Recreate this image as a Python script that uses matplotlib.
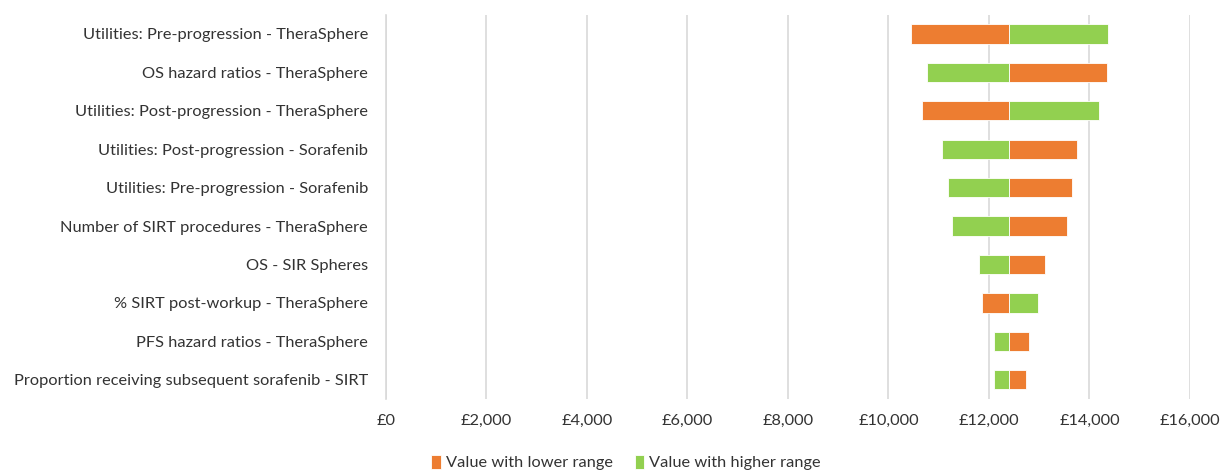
import matplotlib.pyplot as plt
import matplotlib.ticker as ticker
import numpy as np

# ----------- DATA -----------
params = ['Utilities: Pre-progression - TheraSphere',
          'OS hazard ratios - TheraSphere',
          'Utilities: Post-progression - TheraSphere',
          'Utilities: Post-progression - Sorafenib',
          'Utilities: Pre-progression - Sorafenib',
          'Number of SIRT procedures - TheraSphere',
          'OS - SIR Spheres',
          '% SIRT post-workup - TheraSphere',
          'PFS hazard ratios - TheraSphere',
          'Proportion receiving subsequent sorafenib - SIRT']
base_value = 12400
lower_range = [10440, 14350, 10660, 13750, 13660, 13560, 13120, 11860, 12790, 12730]
higher_range = [14370, 10770, 14180, 11075, 11175, 11265, 11800, 12980, 12100, 12100]
xticks = np.arange(0, 16001, 2000)

# ----------- STYLE -----------
ORANGE = '#ED7D31'
GREEN = '#92D050'
GRID = '#D9D9D9'
TEXT = '#333333'
plt.rcParams['font.family'] = ['Lato', 'DejaVu Sans']

fig = plt.figure(figsize=(12.23, 4.71), dpi=100)
ax = fig.add_axes([0.3156, 0.153, 0.6574, 0.8156])

y = np.arange(len(params))
lo = np.array(lower_range) - base_value
hi = np.array(higher_range) - base_value

ax.barh(y, lo, left=base_value, height=0.5, color=ORANGE,
        edgecolor='white', linewidth=0.6, label='Value with lower range', zorder=3)
ax.barh(y, hi, left=base_value, height=0.5, color=GREEN,
        edgecolor='white', linewidth=0.6, label='Value with higher range', zorder=3)

ax.set_yticks(y)
ax.set_yticklabels(params)
ax.set_ylim(len(params) - 0.5, -0.5)

ax.set_xlim(0, 16000)
ax.set_xticks(xticks)
ax.xaxis.set_major_formatter(ticker.FuncFormatter(lambda v, p: '£{:,.0f}'.format(v)))
ax.grid(axis='x', color=GRID, linewidth=1.2, zorder=0)

for s in ['top', 'right', 'bottom']:
    ax.spines[s].set_visible(False)
ax.spines['left'].set_color(GRID)
ax.spines['left'].set_linewidth(1.2)
ax.tick_params(length=0, labelsize=11.8, colors=TEXT)
ax.tick_params(axis='x', pad=11)
ax.tick_params(axis='y', pad=13)

fig.legend(loc='lower center', bbox_to_anchor=(0.512, -0.03), ncol=2, frameon=False,
           fontsize=11.8, handlelength=0.6, handleheight=0.9, handletextpad=0.3,
           columnspacing=1.3, labelcolor=TEXT)

plt.savefig('out.png', dpi=100)
